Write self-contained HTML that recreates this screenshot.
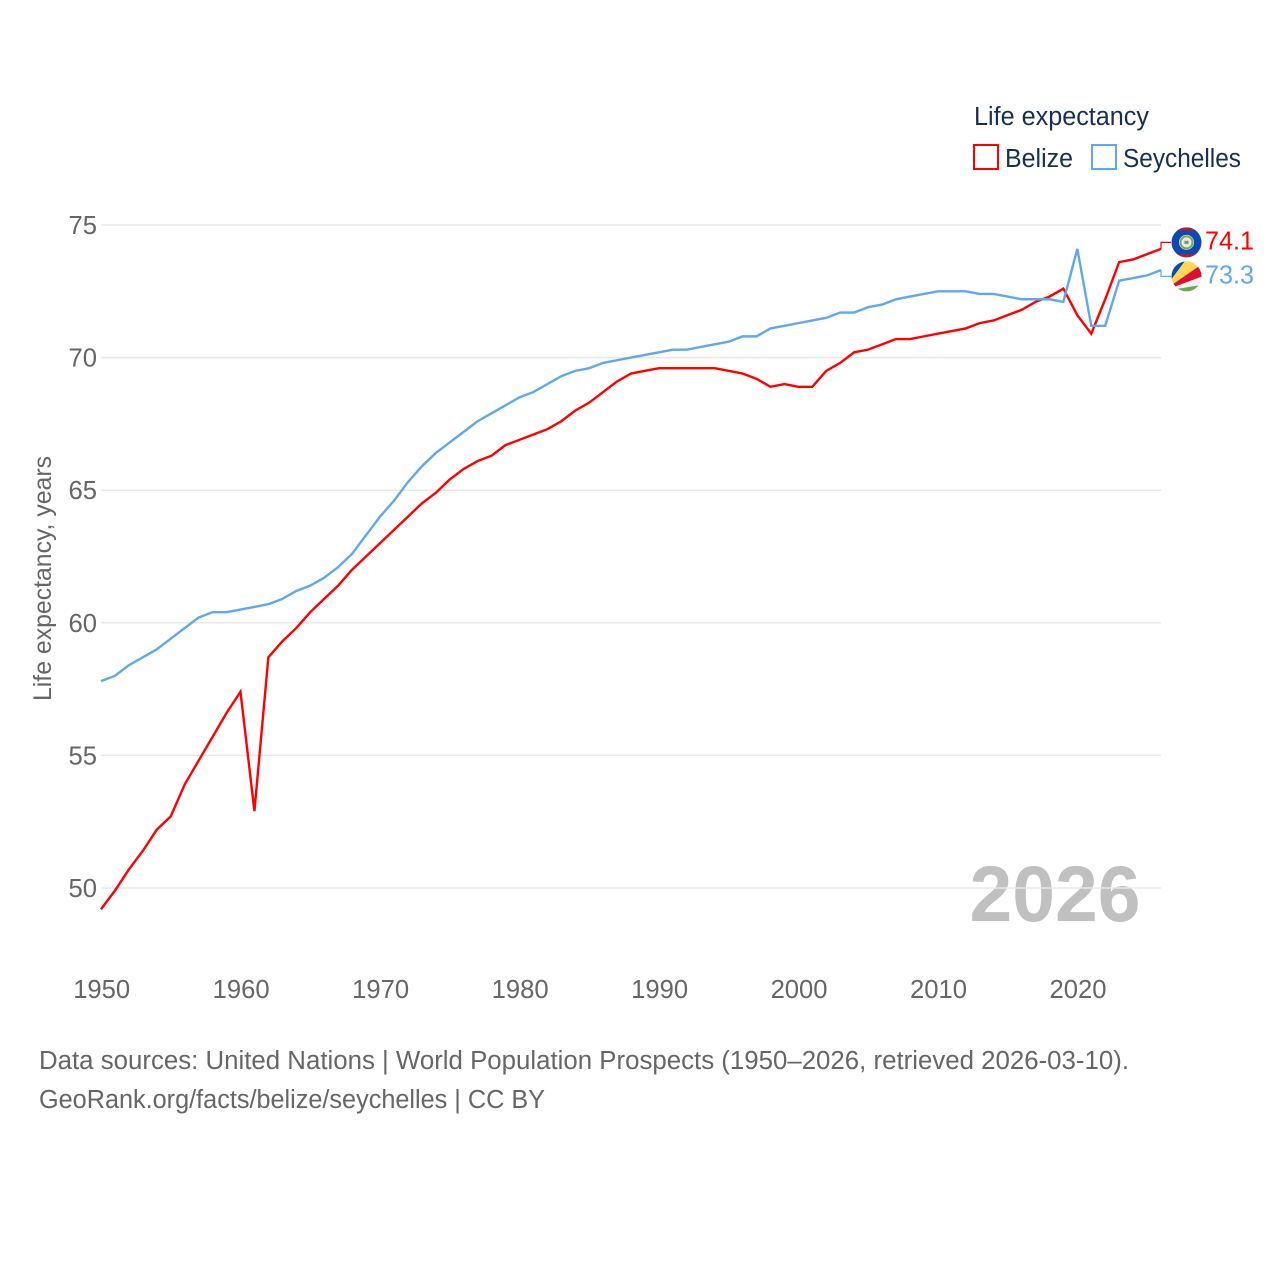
<!DOCTYPE html>
<html lang="en">
<head>
<meta charset="utf-8">
<title>Life expectancy: Belize and Seychelles</title>
<style>
html,body{margin:0;padding:0;background:#fff;width:1280px;height:1280px;overflow:hidden}
svg{display:block}
text{font-family:"Liberation Sans",sans-serif}
</style>
</head>
<body>
<svg id="chart" width="1280" height="1280" viewBox="0 0 1280 1280" xmlns="http://www.w3.org/2000/svg">
  <rect width="1280" height="1280" fill="#fff"/>
  <text x="969.5" y="921" font-size="79" font-weight="700" fill="#c0c0c0" textLength="171" lengthAdjust="spacingAndGlyphs">2026</text>
  <g id="grid"></g>
  <g id="yticks"></g>
  <g id="xticks"></g>
  <text x="0" y="0" transform="translate(51,701) rotate(-90)" font-size="25" fill="#666" textLength="245" lengthAdjust="spacingAndGlyphs">Life expectancy, years</text>

  <text x="974" y="125" font-size="25.5" fill="#18304f" textLength="175" lengthAdjust="spacingAndGlyphs">Life expectancy</text>
  <g>
    <rect x="974" y="145" width="24" height="24" fill="#fff" stroke="#ff0000" stroke-width="2"/>
    <text x="1005" y="167" font-size="25.5" fill="#18304f" textLength="68" lengthAdjust="spacingAndGlyphs">Belize</text>
  </g>
  <g>
    <rect x="1092" y="145" width="24" height="24" fill="#fff" stroke="#5fa8ee" stroke-width="2"/>
    <text x="1123" y="167" font-size="25.5" fill="#18304f" textLength="118" lengthAdjust="spacingAndGlyphs">Seychelles</text>
  </g>

  <g id="series"></g>

  <defs>
    <clipPath id="flag-clip"><circle cx="0" cy="0" r="15"/></clipPath>
  </defs>
  <g id="flag-belize">
    <g clip-path="url(#flag-clip)">
      <rect x="-15" y="-15" width="30" height="30" fill="#0a4bb0"/>
      <rect x="-15" y="-15" width="30" height="3.5" fill="#a81f3e"/>
      <rect x="-15" y="11.5" width="30" height="3.5" fill="#a81f3e"/>
      <circle r="7.5" fill="#e9efe6"/>
      <circle r="6" fill="none" stroke="#7fa85a" stroke-width="2"/>
      <circle r="3.4" fill="#f0e6b0"/>
      <rect x="-2" y="-1.5" width="4" height="3" fill="#5a90c0"/>
    </g>
  </g>
  <g id="flag-seychelles">
    <g clip-path="url(#flag-clip)">
      <rect x="-15" y="-15" width="30" height="30" fill="#f2f2f2"/>
      <polygon points="-24,15 -24,-16 -1,-16" fill="#0a4aa8"/>
      <polygon points="-24,15 -1,-16 24,-18" fill="#fcd856"/>
      <polygon points="-24,15 24,-18 24,-3" fill="#d8112f"/>
      <polygon points="-24,15 24,-3 24,7" fill="#f2f2f2"/>
      <polygon points="-24,15 24,7 24,16 -24,16" fill="#6aa84f"/>
    </g>
  </g>

  <text x="39" y="1069" font-size="25.5" fill="#666" textLength="1090" lengthAdjust="spacingAndGlyphs">Data sources: United Nations | World Population Prospects (1950–2026, retrieved 2026-03-10).</text>
  <text x="39" y="1108" font-size="25.5" fill="#666" textLength="506" lengthAdjust="spacingAndGlyphs">GeoRank.org/facts/belize/seychelles | CC BY</text>
</svg>

<script>
const years = [1950,1951,1952,1953,1954,1955,1956,1957,1958,1959,1960,1961,1962,1963,1964,1965,1966,1967,1968,1969,1970,1971,1972,1973,1974,1975,1976,1977,1978,1979,1980,1981,1982,1983,1984,1985,1986,1987,1988,1989,1990,1991,1992,1993,1994,1995,1996,1997,1998,1999,2000,2001,2002,2003,2004,2005,2006,2007,2008,2009,2010,2011,2012,2013,2014,2015,2016,2017,2018,2019,2020,2021,2022,2023,2024,2025,2026];
const belize = [49.2,49.9,50.7,51.4,52.2,52.7,53.9,54.8,55.7,56.6,57.4,52.9,58.7,59.3,59.8,60.4,60.9,61.4,62.0,62.5,63.0,63.5,64.0,64.5,64.9,65.4,65.8,66.1,66.3,66.7,66.9,67.1,67.3,67.6,68.0,68.3,68.7,69.1,69.4,69.5,69.6,69.6,69.6,69.6,69.6,69.5,69.4,69.2,68.9,69.0,68.9,68.9,69.5,69.8,70.2,70.3,70.5,70.7,70.7,70.8,70.9,71.0,71.1,71.3,71.4,71.6,71.8,72.1,72.3,72.6,71.6,70.9,72.2,73.6,73.7,73.9,74.1];
const seychelles = [57.8,58.0,58.4,58.7,59.0,59.4,59.8,60.2,60.4,60.4,60.5,60.6,60.7,60.9,61.2,61.4,61.7,62.1,62.6,63.3,64.0,64.6,65.3,65.9,66.4,66.8,67.2,67.6,67.9,68.2,68.5,68.7,69.0,69.3,69.5,69.6,69.8,69.9,70.0,70.1,70.2,70.3,70.3,70.4,70.5,70.6,70.8,70.8,71.1,71.2,71.3,71.4,71.5,71.7,71.7,71.9,72.0,72.2,72.3,72.4,72.5,72.5,72.5,72.4,72.4,72.3,72.2,72.2,72.2,72.1,74.1,71.2,71.2,72.9,73.0,73.1,73.3];
const yTickValues = [50,55,60,65,70,75];
const xTickValues = [1950,1960,1970,1980,1990,2000,2010,2020];

const NS = 'http://www.w3.org/2000/svg';
const xScale = function (year) { return 101 + (year - 1950) * (1161 - 101) / 76; };
const yScale = function (value) { return 888 - (value - 50) * (888 - 225) / 25; };

const gridGroup = document.getElementById('grid');
const yTickGroup = document.getElementById('yticks');
const xTickGroup = document.getElementById('xticks');
const seriesGroup = document.getElementById('series');

yTickValues.forEach(function (value) {
  const line = document.createElementNS(NS, 'line');
  line.setAttribute('x1', xScale(1950));
  line.setAttribute('x2', xScale(2026));
  line.setAttribute('y1', yScale(value));
  line.setAttribute('y2', yScale(value));
  line.setAttribute('stroke', '#e8e8e8');
  line.setAttribute('stroke-width', '1.5');
  
  
  gridGroup.appendChild(line);

  const label = document.createElementNS(NS, 'text');
  label.setAttribute('x', 97);
  label.setAttribute('y', yScale(value) + 9);
  label.setAttribute('text-anchor', 'end');
  label.setAttribute('font-size', '26');
  label.setAttribute('fill', '#666');
  label.setAttribute('textLength', '28.5');
  label.setAttribute('lengthAdjust', 'spacingAndGlyphs');
  
  
  label.textContent = value;
  yTickGroup.appendChild(label);
});

xTickValues.forEach(function (year) {
  const label = document.createElementNS(NS, 'text');
  label.setAttribute('x', xScale(year) + 0.7);
  label.setAttribute('y', 998);
  label.setAttribute('text-anchor', 'middle');
  label.setAttribute('font-size', '26');
  label.setAttribute('fill', '#666');
  label.setAttribute('textLength', '57');
  label.setAttribute('lengthAdjust', 'spacingAndGlyphs');
  
  
  label.textContent = year;
  xTickGroup.appendChild(label);
});

function linePath(values) {
  return values.map(function (value, i) {
    return (i ? 'L' : 'M') + xScale(years[i]).toFixed(2) + ' ' + yScale(value).toFixed(2);
  }).join(' ');
}

function drawSeries(values, color, labelY, seriesName) {
  const last = values[values.length - 1];
  const endX = xScale(years[years.length - 1]);

  const path = document.createElementNS(NS, 'path');
  path.setAttribute('d', linePath(values));
  path.setAttribute('fill', 'none');
  path.setAttribute('stroke', color);
  path.setAttribute('stroke-width', '2.4');
  path.setAttribute('stroke-linejoin', 'miter');
  
  
  seriesGroup.appendChild(path);

  const connector = document.createElementNS(NS, 'path');
  connector.setAttribute('d', 'M' + endX + ' ' + yScale(last) + ' L' + endX + ' ' + labelY + ' L1171 ' + labelY);
  connector.setAttribute('fill', 'none');
  connector.setAttribute('stroke', color);
  connector.setAttribute('stroke-width', '1.2');
  
  
  seriesGroup.appendChild(connector);

  const label = document.createElementNS(NS, 'text');
  label.setAttribute('x', 1205);
  label.setAttribute('y', labelY + 7);
  label.setAttribute('font-size', '26');
  label.setAttribute('fill', color);
  label.setAttribute('textLength', '49');
  label.setAttribute('lengthAdjust', 'spacingAndGlyphs');
  
  
  label.textContent = last.toFixed(1);
  seriesGroup.appendChild(label);

  document.getElementById('flag-' + seriesName).setAttribute('transform', 'translate(1186.5,' + labelY + ')');
}

const belizeLabelY = yScale(belize[belize.length - 1]) - 6.5;
const seychellesLabelY = Math.max(belizeLabelY + 34, yScale(seychelles[seychelles.length - 1]));
drawSeries(belize, '#ff0000', belizeLabelY, 'belize');
drawSeries(seychelles, '#5fa8ee', seychellesLabelY, 'seychelles');
</script>
</body>
</html>
